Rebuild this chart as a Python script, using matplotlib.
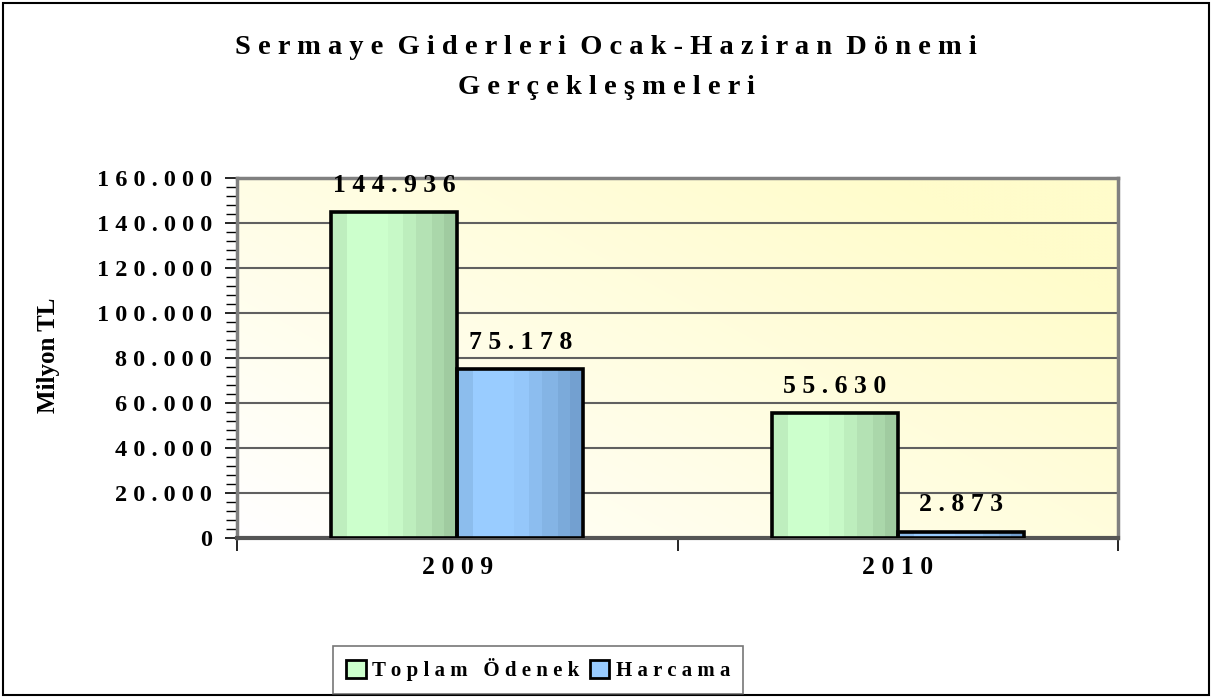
import numpy as np
import matplotlib
matplotlib.use("Agg")
import matplotlib.pyplot as plt
from matplotlib.patches import Rectangle
from matplotlib.ticker import MultipleLocator, FuncFormatter

# data
years = ["2009", "2010"]
toplam_odenek = [144936, 55630]
harcama = [75178, 2873]
series_names = ["Toplam Ödenek", "Harcama"]

plt.rcParams["font.family"] = ["Liberation Serif", "DejaVu Serif"]
plt.rcParams["font.weight"] = "bold"


def spaced(s, word_gap="  "):
    # Excel-style letter spacing
    return word_gap.join(" ".join(w) for w in s.split(" "))


def thousands(v):
    return f"{int(v):,}".replace(",", ".")


def stripe_colors(light, dark, left, n=40):
    light, dark, left = (np.array(matplotlib.colors.to_rgb(c)) for c in (light, dark, left))
    p = (np.floor(np.linspace(0, 1, n, endpoint=False) * 9) + 0.5) / 9
    cols = []
    for q in p:
        if q < 0.1:
            c = left
        elif q < 0.45:
            c = light
        else:
            t = (q - 0.45) / 0.55
            c = light + t * (dark - light)
        cols.append(c)
    return np.array(cols)[None, :, :]


fig = plt.figure(figsize=(12.12, 6.98), dpi=100)
W, H = 1212, 698
ax = fig.add_axes([237 / W, (H - 538) / H, (1118 - 237) / W, (538 - 178) / H])

# plot area gradient: white bottom-left -> light yellow top-right
gx, gy = np.meshgrid(np.linspace(0, 1, 200), np.linspace(0, 1, 120))
t = np.clip((gx * 0.8 + gy * 0.6) / 1.2, 0, 1)
white = np.array([1.0, 1.0, 1.0])
yellow = np.array(matplotlib.colors.to_rgb("#FFFCCB"))
bg = white[None, None, :] + t[..., None] * (yellow - white)[None, None, :]
ax.imshow(bg, extent=[0, 1, 0, 1], transform=ax.transAxes, origin="lower",
          aspect="auto", zorder=0, interpolation="bilinear")

x = np.arange(len(years))
w = 0.286

fills = [stripe_colors("#CCFFCC", "#9CC69C", "#BEEEBE"),
         stripe_colors("#99CCFF", "#6F9CCB", "#8CBDED")]
legend_colors = ["#CCFFCC", "#99CCFF"]

for i, (vals, grad) in enumerate(zip([toplam_odenek, harcama], fills)):
    xs = x - w / 2 + i * w
    bars = ax.bar(xs, vals, w, color="none", edgecolor="black", linewidth=2.6, zorder=4)
    for b, v in zip(bars, vals):
        im = ax.imshow(grad, extent=[b.get_x(), b.get_x() + w, 0, v], aspect="auto",
                       interpolation="nearest", zorder=3)
        im.set_clip_path(b)
        ax.annotate(spaced(thousands(v)), (b.get_x() + w / 2, v), xytext=(0, 11),
                    textcoords="offset points", ha="center", va="bottom",
                    fontsize=18.5, fontweight="bold")

ax.set_xlim(-0.5, 1.5)
ax.set_ylim(0, 160000)

# grid
ax.yaxis.set_major_locator(MultipleLocator(20000))
ax.yaxis.set_minor_locator(MultipleLocator(4000))
ax.yaxis.set_major_formatter(FuncFormatter(lambda v, p: spaced(thousands(v))))
ax.grid(axis="y", which="major", color="#606060", linewidth=1.5, zorder=1)
ax.set_axisbelow(True)
ax.tick_params(axis="y", which="major", length=9, width=1.2, pad=9, labelsize=17.5)
ax.tick_params(axis="y", which="minor", length=8, width=1.0)

ax.set_xticks([-0.5, 0.5, 1.5])
ax.set_xticklabels([])
ax.set_xticks(x, minor=True)
ax.set_xticklabels([spaced(y) for y in years], minor=True)
ax.tick_params(axis="x", which="major", length=9, width=1.2)
ax.tick_params(axis="x", which="minor", length=0, pad=13, labelsize=18.5)

for s in ["top", "right", "left"]:
    ax.spines[s].set_color("#808080")
    ax.spines[s].set_linewidth(2.5)
ax.spines["bottom"].set_color("#555555")
ax.spines["bottom"].set_linewidth(3)

ax.set_ylabel("Milyon TL", fontsize=18, fontweight="bold")
ax.yaxis.set_label_coords(-0.201, 0.508)

fig.text(0.5, 1 - 47 / H, spaced("Sermaye Giderleri Ocak-Haziran Dönemi"),
         ha="center", va="center", fontsize=20.5, fontweight="bold")
fig.text(0.5, 1 - 87 / H, spaced("Gerçekleşmeleri"),
         ha="center", va="center", fontsize=20.5, fontweight="bold")

handles = [Rectangle((0, 0), 1, 1, facecolor=c, edgecolor="black", linewidth=2) for c in legend_colors]
leg = fig.legend(handles, [spaced(n, "   ") for n in series_names], loc="center",
                 bbox_to_anchor=(538 / W, 1 - 669.5 / H), ncol=2, frameon=True,
                 fancybox=False, edgecolor="#555555", fontsize=15,
                 handlelength=0.95, handleheight=0.95, handletextpad=0.3,
                 columnspacing=0.5, borderpad=0.6)
leg.get_frame().set_linewidth(1.2)

# outer chart border
fig.patches.append(Rectangle((3 / W, 3 / H), 1 - 6 / W, 1 - 6 / H, transform=fig.transFigure,
                             fill=False, edgecolor="black", linewidth=1.5))

fig.savefig("out.png", dpi=100)
